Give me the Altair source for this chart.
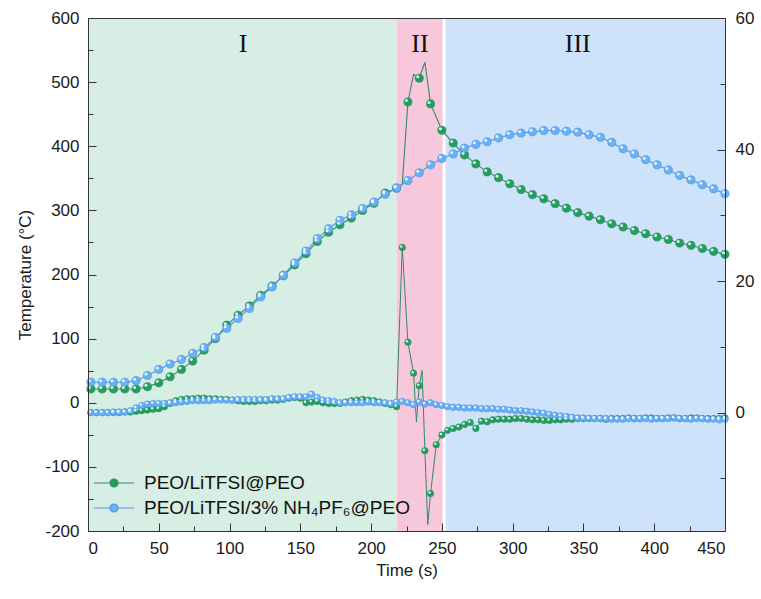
import altair as alt
import pandas as pd

GREEN = "PEO/LiTFSI@PEO"
BLUE = "PEO/LiTFSI/3% NH\u2084PF\u2086@PEO"

# sampling times (s)
time_temp = list(range(2, 451, 8))
time_rate = list(range(2, 451, 4))

# temperature curves (left axis, °C)
temp_green = [21.5, 21.5, 21.5, 21.5, 21.5, 25, 31, 40.5, 52, 65,
              82, 100, 121, 136.5, 151, 167.5, 182, 198, 215, 232.5,
              251.5, 266, 277.5, 288, 300, 311, 327, 334.5, 469, 506,
              466, 425, 405, 386.5, 372.5, 360, 351, 341.5, 332.5, 324.5,
              318, 310.5, 303.5, 296.5, 291, 285.5, 279, 274, 268.5, 263.5,
              258.5, 254.5, 249, 245.5, 240.5, 236, 231.5]
temp_green_extra_t = [222, 230, 238]
temp_green_extra_v = [341, 512, 531]

temp_blue = [32, 32, 32, 32, 34.5, 42.5, 52, 60.5, 67.5, 77,
             86, 102, 116, 131.5, 147, 165, 180.5, 199, 218, 236.5,
             256, 271.5, 284.5, 293, 303, 313, 325, 335, 346.5, 358.5,
             371, 381, 388, 397, 403, 407, 413, 418, 420.5, 422.5,
             424.5, 424.5, 423.5, 422, 418, 414, 406, 396, 388, 379,
             371, 363, 354.5, 347.5, 340, 333.5, 326]

# rate curves (right axis)
rate_green = [0.0, 0.0, 0.0, 0.0, 0.0, 0.0, 0.1, 0.1, 0.2, 0.3,
              0.4, 0.5, 0.6, 0.9, 1.4, 1.8, 2.0, 2.1, 2.1, 2.2,
              2.2, 2.1, 2.1, 2.0, 2.0, 1.9, 1.8, 1.7, 1.7, 1.7,
              1.8, 1.8, 1.9, 1.9, 2.0, 2.2, 2.3, 2.2, 1.5, 1.6,
              1.7, 1.5, 1.4, 1.4, 1.4, 1.6, 1.8, 1.9, 2.0, 1.9,
              1.8, 1.6, 1.4, 1.2, 0.9, 25.1, 10.7, 6.0, 4.1, -5.8,
              -12.3, -4.9, -3.4, -2.7, -2.4, -2.2, -1.8, -1.5, -2.4, -1.3,
              -1.4, -1.1, -1.0, -1.0, -1.0, -0.9, -0.9, -1.0, -1.1, -1.1,
              -1.2, -1.2, -1.1, -1.1, -1.0, -1.0, -0.9, -0.9, -0.9, -0.9,
              -0.9, -1.0, -0.9, -0.9, -0.9, -0.8, -0.9, -0.9, -0.8, -0.8,
              -0.9, -0.9, -0.8, -0.8, -0.9, -0.9, -0.8, -0.8, -0.9, -0.9,
              -0.9, -0.9, -0.8]
rate_green_extra_t = [232, 236, 240]
rate_green_extra_v = [-1.4, 6.4, -17.0]

rate_blue = [0.0, 0.0, 0.0, 0.0, 0.1, 0.1, 0.1, 0.3, 0.7, 1.1,
             1.3, 1.4, 1.4, 1.4, 1.5, 1.5, 1.6, 1.7, 1.8, 1.8,
             1.8, 1.8, 1.9, 1.9, 1.9, 1.9, 2.0, 2.0, 2.0, 2.0,
             2.0, 2.0, 2.1, 2.1, 2.1, 2.3, 2.4, 2.4, 2.4, 2.8,
             2.3, 1.9, 1.8, 1.7, 1.5, 1.5, 1.5, 1.5, 1.5, 1.6,
             1.5, 1.5, 1.5, 1.4, 1.6, 1.7, 1.5, 1.2, 1.6, 1.3,
             1.5, 1.2, 1.1, 0.9, 0.8, 0.8, 0.7, 0.7, 0.7, 0.6,
             0.6, 0.6, 0.5, 0.5, 0.4, 0.3, 0.3, 0.2, 0.1, 0.0,
             -0.1, -0.3, -0.4, -0.5, -0.6, -0.7, -0.8, -0.8, -0.9, -0.9,
             -0.9, -0.9, -1.0, -1.0, -1.0, -0.9, -0.9, -0.9, -0.9, -1.0,
             -0.9, -0.9, -0.9, -0.8, -0.9, -0.9, -1.0, -0.9, -0.9, -1.0,
             -1.0, -1.1, -1.0]

# stage regions
region_start = [0, 218, 252.5]
region_end = [218, 250.5, 450]
region_color = ["#d6eee3", "#f7c8dc", "#cee2fa"]
stage_label = ["I", "II", "III"]
stage_t = [109.5, 234.5, 346]
stage_y = 559

# series styling
series_names = [GREEN, BLUE]
marker_fill = ["#21a05d", "#69b0f4"]
line_color = ["#2f8b69", "#4d95e2"]
FILL = dict(zip(series_names, marker_fill))
LINE = dict(zip(series_names, line_color))

# ---------------------------------------------------------------- frames
def frame(times, values, name, marker):
    return pd.DataFrame({"t": times, "v": values, "series": name, "marker": marker,
                         "fc": FILL[name], "lc": LINE[name]})

top_pts = pd.concat([frame(time_temp, temp_green, GREEN, True),
                     frame(time_temp, temp_blue, BLUE, True)], ignore_index=True)
top_line = pd.concat([frame(time_temp, temp_green, GREEN, True),
                      frame(temp_green_extra_t, temp_green_extra_v, GREEN, False),
                      frame(time_temp, temp_blue, BLUE, True)], ignore_index=True)
rate_pts = pd.concat([frame(time_rate, rate_green, GREEN, True),
                      frame(time_rate, rate_blue, BLUE, True)], ignore_index=True)
rate_line = pd.concat([frame(time_rate, rate_green, GREEN, True),
                       frame(rate_green_extra_t, rate_green_extra_v, GREEN, False),
                       frame(time_rate, rate_blue, BLUE, True)], ignore_index=True)
regions = pd.DataFrame({"start": region_start, "end": region_end, "col": region_color})
stages = pd.DataFrame({"t": stage_t, "label": stage_label})

# ---------------------------------------------------------------- scales
x_scale = alt.Scale(domain=[0, 450], nice=False, zero=False)
yl_scale = alt.Scale(domain=[-200, 600], nice=False, zero=False)
yr_scale = alt.Scale(domain=[-18, 60], nice=False, zero=False)
fill_scale = alt.Scale(domain=series_names, range=marker_fill)
stroke_scale = alt.Scale(domain=series_names, range=line_color)

FONT = "Liberation Sans"
AX = dict(labelFont=FONT, labelFontSize=17, labelColor="#1a1a1a",
          titleFont=FONT, titleFontSize=17, titleFontWeight="normal", titleColor="#1a1a1a",
          domainColor="#333333", domainWidth=1, grid=False, zindex=1, ticks=False)
TK = dict(domain=False, labels=False, title=None, grid=False,
          tickColor="#333333", tickWidth=1, zindex=1)

x_main = alt.Axis(orient="bottom", values=list(range(0, 451, 50)), labelPadding=9,
                  title="Time (s)", titlePadding=6, **AX)
yl_main = alt.Axis(orient="left", values=list(range(-200, 601, 100)), labelPadding=9,
                   labelExpr="'' + datum.value", title="Temperature (°C)", titlePadding=10, **AX)
yr_main = alt.Axis(orient="right", values=[0, 20, 40, 60], labelPadding=10, title=None, **AX)

legend = alt.Legend(title=None, orient="none", legendX=15, legendY=454,
                    symbolType="M-2,0L-0.45,0M0.45,0L2,0M-0.4,0A0.4,0.4,0,1,1,0.4,0A0.4,0.4,0,1,1,-0.4,0Z",
                    symbolSize=400, symbolStrokeWidth=1.2, labelFont=FONT, labelFontSize=19,
                    labelColor="#111111", labelOffset=19, rowPadding=4, padding=0, labelLimit=500)

# ---------------------------------------------------------------- left (temperature) group
bg = alt.Chart(regions).mark_rect().encode(
    x=alt.X("start:Q", scale=x_scale, axis=x_main),
    x2="end:Q",
    color=alt.Color("col:N", scale=None, legend=None),
)
t_line = alt.Chart(top_line).mark_line(strokeWidth=1.1).encode(
    x=alt.X("t:Q", scale=x_scale),
    y=alt.Y("v:Q", scale=yl_scale, axis=yl_main),
    stroke=alt.Stroke("lc:N", scale=None),
)
t_pts = alt.Chart(top_pts).mark_point(filled=True, size=66, strokeWidth=0.7, opacity=1).encode(
    x=alt.X("t:Q", scale=x_scale),
    y=alt.Y("v:Q", scale=yl_scale),
    fill=alt.Fill("series:N", scale=fill_scale, legend=legend),
    stroke=alt.Stroke("series:N", scale=stroke_scale, legend=legend),
)
t_hl = alt.Chart(top_pts).mark_point(filled=True, size=9, color="white", opacity=0.85,
                                      xOffset=-1.5, yOffset=-1.5).encode(
    x=alt.X("t:Q", scale=x_scale),
    y=alt.Y("v:Q", scale=yl_scale),
)
roman = alt.Chart(stages).mark_text(font="Liberation Serif", fontSize=26, color="#111111",
                                    baseline="middle", align="center").encode(
    x=alt.X("t:Q", scale=x_scale),
    y=alt.datum(stage_y),
    text="label:N",
)
left = alt.layer(bg, t_line, t_pts, t_hl, roman)

# ---------------------------------------------------------------- right (rate) group
r_line = alt.Chart(rate_line).mark_line(strokeWidth=1.0).encode(
    x=alt.X("t:Q", scale=x_scale, axis=None),
    y=alt.Y("v:Q", scale=yr_scale, axis=yr_main),
    stroke=alt.Stroke("lc:N", scale=None),
)
r_pts = alt.Chart(rate_pts).mark_point(filled=True, size=42, strokeWidth=0.6, opacity=1).encode(
    x=alt.X("t:Q", scale=x_scale, axis=None),
    y=alt.Y("v:Q", scale=yr_scale),
    fill=alt.Fill("fc:N", scale=None),
    stroke=alt.Stroke("lc:N", scale=None),
)
r_hl = alt.Chart(rate_pts).mark_point(filled=True, size=6, color="white", opacity=0.85,
                                       xOffset=-1, yOffset=-1).encode(
    x=alt.X("t:Q", scale=x_scale, axis=None),
    y=alt.Y("v:Q", scale=yr_scale),
)
right = alt.layer(r_line, r_pts, r_hl)

# ---------------------------------------------------------------- inward tick layers
dummy = pd.DataFrame({"t": [0, 450], "tl": [-200, 600], "tr": [-18, 60]})

def tick_layer(x_axis, y_field, y_scale, y_axis):
    return alt.Chart(dummy).mark_point(opacity=0).encode(
        x=alt.X("t:Q", scale=x_scale, axis=x_axis),
        y=alt.Y(f"{y_field}:Q", scale=y_scale, axis=y_axis),
    )

L3 = tick_layer(alt.Axis(orient="bottom", values=list(range(0, 451, 50)), tickSize=8, offset=-8, **TK),
                "tl", yl_scale,
                alt.Axis(orient="left", values=list(range(-200, 601, 100)), tickSize=8, offset=-8, **TK))
L4 = tick_layer(alt.Axis(orient="bottom", values=list(range(25, 451, 50)), tickSize=5, offset=-5, **TK),
                "tl", yl_scale,
                alt.Axis(orient="left", values=list(range(-150, 600, 100)), tickSize=5, offset=-5, **TK))
L5 = tick_layer(alt.Axis(orient="top", domain=True, ticks=False, labels=False, title=None,
                         grid=False, domainColor="#333333", domainWidth=1, zindex=1),
                "tr", yr_scale,
                alt.Axis(orient="right", values=[0, 20, 40, 60], tickSize=8, offset=-8, **TK))
L6 = tick_layer(None, "tr", yr_scale,
                alt.Axis(orient="right", values=[-10, 10, 30, 50], tickSize=5, offset=-5, **TK))

chart = alt.layer(left, right, L3, L4, L5, L6).resolve_scale(
    x="independent", y="independent"
).properties(
    width=637, height=513,
    padding={"left": 88, "top": 18, "right": 36, "bottom": 68},
    autosize=alt.AutoSizeParams(type="none"),
    background="white",
).configure_view(stroke=None).configure(font=FONT)

chart.save("out.html", embed_options={"renderer": "svg", "actions": False})
